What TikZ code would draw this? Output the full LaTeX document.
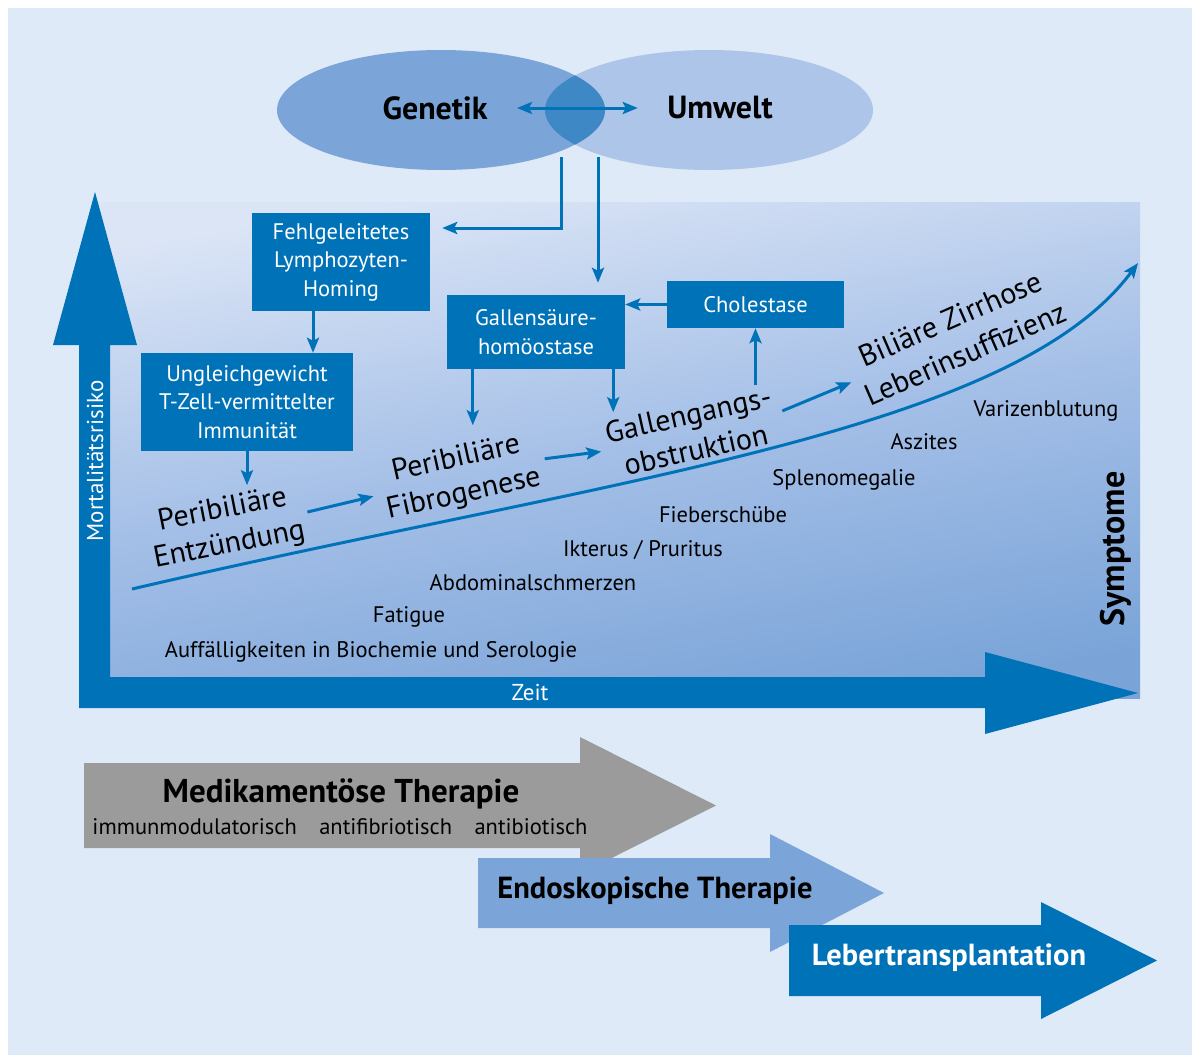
\documentclass[tikz,border=0pt]{standalone}
\usepackage{fontspec}
\setmainfont{PT Sans}
\usetikzlibrary{arrows.meta,calc}

\definecolor{bluedark}{RGB}{0,114,184}
\definecolor{bluemid}{RGB}{123,165,216}
\definecolor{bluepale}{RGB}{173,197,233}
\definecolor{bluecut}{RGB}{63,136,198}
\definecolor{bgblue}{RGB}{222,234,247}
\definecolor{paneltop}{RGB}{219,229,246}
\definecolor{panelmid}{RGB}{164,191,231}
\definecolor{panelbot}{RGB}{122,164,216}
\definecolor{therapygray}{RGB}{155,155,155}

\begin{document}
\begin{tikzpicture}[
    x=1pt, y=-1pt,
    >={Stealth[length=15pt,width=12pt,inset=3pt]},
    flow/.style={draw=bluedark, line width=3pt, ->},
    procbox/.style={
        fill=bluedark,
        text=white,
        align=center,
        inner sep=0pt,
        font=\fontsize{22.5}{28.5}\selectfont
    },
    stage/.style={align=center, inner sep=2pt, font=\fontsize{30}{36}\selectfont},
    symptom/.style={inner sep=1pt, font=\fontsize{22.5}{25}\selectfont},
    axislabel/.style={text=white, inner sep=1pt, font=\fontsize{23}{26}\selectfont},
    therapy/.style={inner sep=1pt, font=\fontsize{33}{36}\selectfont\bfseries}
]

\useasboundingbox (0,0) rectangle (1192,1055);
\fill[bgblue] (8,8) rectangle (1192,1055);

\shade[top color=paneltop, bottom color=panelbot, middle color=panelmid, shading angle=10]
    (100,202) rectangle (1140,698);

\fill[bluepale] (709,110) ellipse [x radius=164, y radius=60];
\fill[bluemid] (441,110) ellipse [x radius=164, y radius=60];
\begin{scope}
    \clip (441,110) ellipse [x radius=164, y radius=60];
    \fill[bluecut] (709,110) ellipse [x radius=164, y radius=60];
\end{scope}

\node[font=\fontsize{32}{36}\selectfont\bfseries] (gen) at (435,108) {Genetik};
\node[font=\fontsize{32}{36}\selectfont\bfseries] (umw) at (720,108) {Umwelt};
\draw[flow, <->, shorten <=26pt, shorten >=26pt] (gen) -- (umw);

\node[procbox, minimum width=178, minimum height=98] (lymph) at (341,262) {Fehlgeleitetes\\Lymphozyten-\\Homing};
\node[procbox, minimum width=212, minimum height=98] (tzell) at (247,402) {Ungleichgewicht\\T-Zell-vermittelter\\Immunität};
\node[procbox, minimum width=178, minimum height=74] (gallens) at (536,332) {Gallensäure-\\homöostase};
\node[procbox, minimum width=177, minimum height=47] (chol) at (755.5,304.5) {Cholestase};

\coordinate (gsrc) at (561,157);
\coordinate (usrc) at (598,157);
\draw[flow, shorten >=12pt] (gsrc) |- ([yshift=34pt]lymph.east);
\draw[flow, shorten >=12pt] (usrc) -- (usrc |- gallens.north);

\node[stage, rotate=11] (entz) at (226,528) {Peribiliäre\\Entzündung};
\node[stage, rotate=12.5] (fibro) at (460,477) {Peribiliäre\\Fibrogenese};
\node[stage, rotate=12.5] (obstr) at (692,432) {Gallengangs-\\obstruktion};
\node[stage, rotate=23.5, font=\fontsize{30}{38}\selectfont] (zirr) at (958,336) {Biliäre Zirrhose\\Leberinsuffizienz};

\draw[flow] ([xshift=-28pt]lymph.south) -- ([xshift=-28pt]lymph.south |- tzell.north);
\draw[flow] (tzell.south) -- ++(0,34);
\draw[flow] ([xshift=26pt]gallens.south west) -- ++(0,56);
\draw[flow] ([xshift=-12pt]gallens.south east) -- ++(0,43);
\draw[flow] (chol.west) -- (chol.west -| gallens.east);
\draw[flow] ([yshift=-57pt]chol.south) -- (chol.south);

\draw[flow, shorten <=4pt, shorten >=8pt] (entz.east) -- (fibro.west);
\draw[flow, shorten <=6pt, shorten >=6pt] (fibro.east) -- (obstr.west);
\draw[flow, shorten <=6pt, shorten >=6pt] (obstr.east) -- (zirr.west);

\draw[flow] (132,589) .. controls (600,480) and (1010,435) .. (1138,263);

\fill[bluedark] (79,708) -- (79,345) -- (53,345) -- (95,192) -- (137,345) -- (110,345)
    -- (110,677) -- (985,677) -- (985,652) -- (1138,693) -- (985,734) -- (985,708) -- cycle;
\node[axislabel, rotate=90] (mort) at (95,461) {Mortalitätsrisiko};
\node[axislabel] (zeit) at (530,692) {Zeit};

\node[symptom] (biochem) at (371,652) {Auffälligkeiten in Biochemie und Serologie};
\node[symptom] (fatigue) at (409,617) {Fatigue};
\node[symptom] (abdomen) at (533,583) {Abdominalschmerzen};
\node[symptom] (ikterus) at (643,550) {Ikterus / Pruritus};
\node[symptom] (fieber) at (723,515) {Fieberschübe};
\node[symptom] (splen) at (844,480) {Splenomegalie};
\node[symptom] (aszites) at (924,442) {Aszites};
\node[symptom] (varizen) at (1046,411) {Varizenblutung};
\node[font=\fontsize{34}{36}\selectfont\bfseries, rotate=90] (sympt) at (1116,549) {Symptome};

\fill[therapygray] (84,763) -- (580,763) -- (580,737) -- (716,805.5) -- (580,874) -- (580,848) -- (84,848) -- cycle;
\fill[bluemid] (478,858) -- (770,858) -- (770,834) -- (884,893) -- (770,952) -- (770,928) -- (478,928) -- cycle;
\fill[bluedark] (789,925) -- (1041,925) -- (1041,902) -- (1157,960.5) -- (1041,1019) -- (1041,996) -- (789,996) -- cycle;

\node[therapy] (medi) at (341,794) {Medikamentöse Therapie};
\node[symptom] (mediarten) at (340,827) {immunmodulatorisch\quad antifibriotisch\quad antibiotisch};
\node[therapy, font=\fontsize{30.5}{34}\selectfont\bfseries] (endo) at (655,891) {Endoskopische Therapie};
\node[therapy, font=\fontsize{30.5}{34}\selectfont\bfseries, text=white] (ltx) at (949,958) {Lebertransplantation};

\end{tikzpicture}
\end{document}
